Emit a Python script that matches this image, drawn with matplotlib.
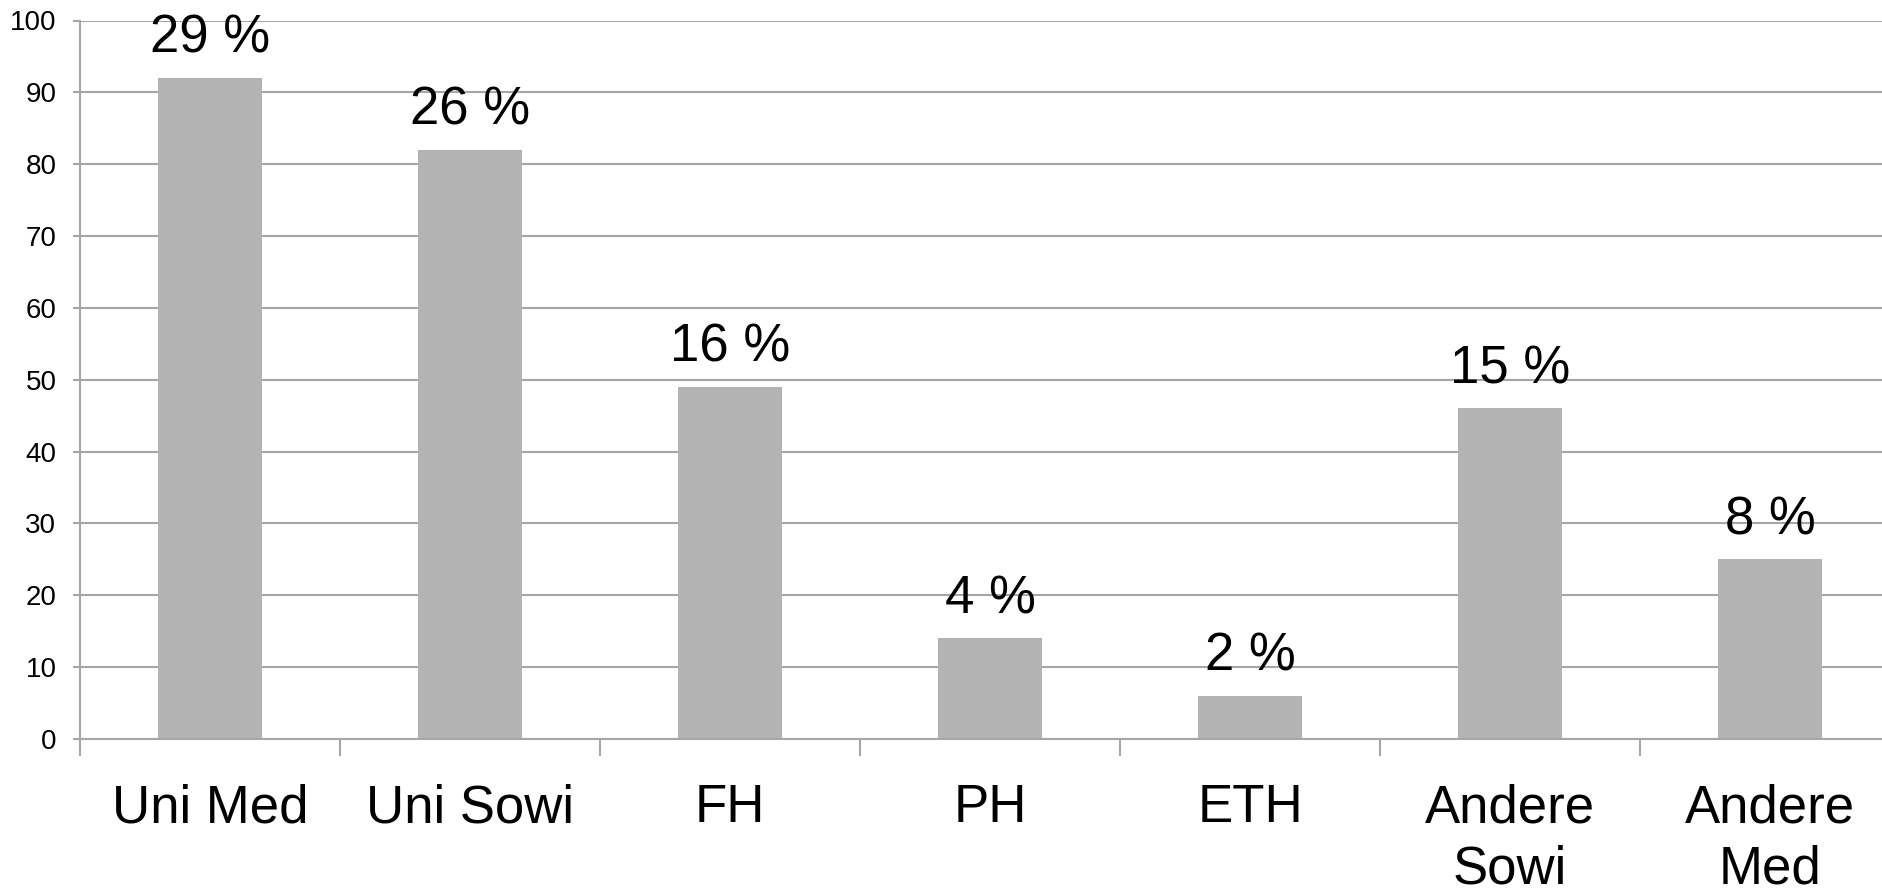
import matplotlib
matplotlib.use("Agg")
import matplotlib.pyplot as plt
import numpy as np

# Hochschultyp: Anzahl und Anteil
categories = ["Uni Med", "Uni Sowi", "FH", "PH", "ETH", "Andere\nSowi", "Andere\nMed"]
counts = [92, 82, 49, 14, 6, 46, 25]
percent_labels = ["29 %", "26 %", "16 %", "4 %", "2 %", "15 %", "8 %"]

plt.rcParams["font.family"] = ["Liberation Sans", "DejaVu Sans"]

W, H = 1883, 892
fig = plt.figure(figsize=(W / 100, H / 100), dpi=100)
left_px, right_px, top_px, zero_px = 80, 1883, 20.5, 739
ax = fig.add_axes([left_px / W, (H - zero_px) / H,
                   (right_px - left_px) / W, (zero_px - top_px) / H])

grey = "#a6a6a6"
x = np.arange(len(categories))
bars = ax.bar(x, counts, width=0.4, color="#b3b3b3", zorder=3)

for b, lab in zip(bars, percent_labels):
    ax.annotate(lab, (b.get_x() + b.get_width() / 2, b.get_height()),
                xytext=(0, 18), textcoords="offset points",
                ha="center", va="baseline", fontsize=38, zorder=4)

ax.set_yticks(np.arange(0, 101, 10))
ax.yaxis.grid(True, color=grey, linewidth=1.5, zorder=0)

ax.set_xticks(np.arange(len(categories) + 1) - 0.5)
ax.set_xticklabels([])
ax.set_xticks(x, minor=True)
ax.set_xticklabels(categories, minor=True, fontsize=38, linespacing=1.28)
ax.tick_params(axis="x", which="major", length=12, width=1.5, color=grey)
ax.tick_params(axis="x", which="minor", length=0, pad=32)
ax.tick_params(axis="y", length=5, width=1.5, color=grey, labelsize=20, pad=12)

# category spacing is 260 px, the last slot runs off the right edge
slot = 260 / (right_px - left_px)
ax.set_xlim(-0.5, -0.5 + 1 / slot)
ax.set_ylim(0, 100)

for s in ("top", "right"):
    ax.spines[s].set_visible(False)
for s in ("left", "bottom"):
    ax.spines[s].set_color(grey)
    ax.spines[s].set_linewidth(1.5)
ax.spines["bottom"].set_zorder(4)

fig.savefig("out.png", dpi=100)
